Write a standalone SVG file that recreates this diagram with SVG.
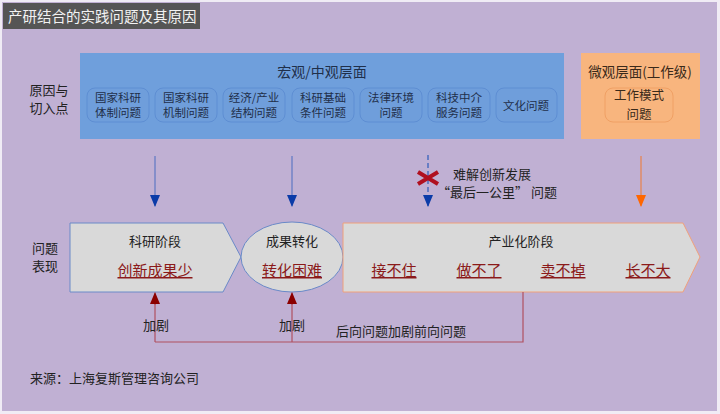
<svg xmlns="http://www.w3.org/2000/svg" width="720" height="414" viewBox="0 0 720 414">
<style>
text{font-family:"Noto Sans CJK SC","Liberation Sans",sans-serif;fill:#222}
.sub{fill:#6F9EDB;stroke:#5E8ED3;stroke-width:1}
.subt{font-size:11.5px;text-anchor:middle;fill:#1F2F4A}
.stage{fill:#D9D9D9}
.st{font-size:13px;text-anchor:middle}
.red{font-size:15px;text-anchor:middle;fill:#8B1A1A;text-decoration:underline}
.lbl{font-size:13px}
.mt{font-size:12.5px;text-anchor:middle;fill:#3A2A1A}
</style>
<defs>
<marker id="ab" markerWidth="12" markerHeight="10" refX="11" refY="5" orient="auto" markerUnits="userSpaceOnUse" viewBox="0 0 12 10"><path d="M0,0 L12,5 L0,10 Z" fill="#0B3BA8"/></marker>
<marker id="ao" markerWidth="12" markerHeight="10" refX="11" refY="5" orient="auto" markerUnits="userSpaceOnUse" viewBox="0 0 12 10"><path d="M0,0 L12,5 L0,10 Z" fill="#FF6600"/></marker>
<marker id="ar" markerWidth="12" markerHeight="10" refX="11" refY="5" orient="auto" markerUnits="userSpaceOnUse" viewBox="0 0 12 10"><path d="M0,0 L12,5 L0,10 Z" fill="#8B0000"/></marker>
</defs>
<rect x="0" y="0" width="720" height="414" fill="#F0ECF5"/>
<rect x="2" y="2" width="715" height="409" fill="#C0B0D3"/>
<g id="title">
<rect x="3" y="3" width="197" height="26" fill="#555555"/>
<text x="8" y="22" style="font-size:14.5px;fill:#F2F2F2">产研结合的实践问题及其原因</text>
</g>
<g id="label-cause">
<text x="49" y="95" class="lbl" text-anchor="middle">原因与</text>
<text x="49" y="113" class="lbl" text-anchor="middle">切入点</text>
</g>
<g id="macro">
<rect x="80" y="53" width="484" height="86" fill="#6F9FDC"/>
<text x="322" y="77" style="font-size:14px;text-anchor:middle;fill:#1F2F4A">宏观/中观层面</text>
<rect class="sub" x="87" y="88" width="62" height="34" rx="8"/>
<text class="subt" x="118" y="102">国家科研</text><text class="subt" x="118" y="117">体制问题</text>
<rect class="sub" x="155" y="88" width="62" height="34" rx="8"/>
<text class="subt" x="186" y="102">国家科研</text><text class="subt" x="186" y="117">机制问题</text>
<rect class="sub" x="223" y="88" width="62" height="34" rx="8"/>
<text class="subt" x="254" y="102">经济/产业</text><text class="subt" x="254" y="117">结构问题</text>
<rect class="sub" x="292" y="88" width="62" height="34" rx="8"/>
<text class="subt" x="323" y="102">科研基础</text><text class="subt" x="323" y="117">条件问题</text>
<rect class="sub" x="360" y="88" width="62" height="34" rx="8"/>
<text class="subt" x="391" y="102">法律环境</text><text class="subt" x="391" y="117">问题</text>
<rect class="sub" x="428" y="88" width="62" height="34" rx="8"/>
<text class="subt" x="459" y="102">科技中介</text><text class="subt" x="459" y="117">服务问题</text>
<rect class="sub" x="496" y="88" width="61" height="34" rx="8"/>
<text class="subt" x="526" y="110">文化问题</text>
</g>
<g id="micro">
<rect x="581" y="53" width="119" height="86" fill="#F8B57E"/>
<text x="640" y="77" style="font-size:13.5px;text-anchor:middle;fill:#3A2A1A">微观层面(工作级)</text>
<rect x="605" y="88" width="68" height="34" rx="8" fill="#F8B57E" stroke="#F0A064"/>
<text class="mt" x="639" y="100">工作模式</text>
<text class="mt" x="639" y="119">问题</text>
</g>
<g id="label-problem">
<text x="45" y="253" class="lbl" text-anchor="middle">问题</text>
<text x="45" y="271" class="lbl" text-anchor="middle">表现</text>
</g>
<g id="stage-research">
<path class="stage" d="M70,223 L223,223 L241,257 L223,292 L70,292 Z" stroke="#6A8AC8" stroke-width="1"/>
<text class="st" x="155" y="246">科研阶段</text>
<text class="red" x="155" y="276">创新成果少</text>
</g>
<g id="stage-transfer">
<ellipse class="stage" cx="292" cy="257" rx="51" ry="35" stroke="#6A8AC8" stroke-width="1"/>
<text class="st" x="292" y="246">成果转化</text>
<text class="red" x="292" y="276">转化困难</text>
</g>
<g id="stage-industry">
<path class="stage" d="M343,223 L683,223 L700,257 L683,292 L343,292 Z" stroke="#F0A07A" stroke-width="1"/>
<text class="st" x="521" y="246">产业化阶段</text>
<text class="red" x="394" y="276">接不住</text>
<text class="red" x="479" y="276">做不了</text>
<text class="red" x="563" y="276">卖不掉</text>
<text class="red" x="648" y="276">长不大</text>
</g>
<g id="connectors">
<line x1="155" y1="156" x2="155" y2="206" stroke="#4A6CC0" stroke-width="1" marker-end="url(#ab)"/>
<line x1="292" y1="156" x2="292" y2="206" stroke="#4A6CC0" stroke-width="1" marker-end="url(#ab)"/>
<line x1="428" y1="155" x2="428" y2="206" stroke="#4A6CC0" stroke-width="1.5" stroke-dasharray="5,3" marker-end="url(#ab)"/>
<path d="M418,172 L438,184 M418,184 L438,172" stroke="#B01020" stroke-width="4"/>
<line x1="641" y1="156" x2="641" y2="206" stroke="#F07830" stroke-width="1" marker-end="url(#ao)"/>
<path d="M155,342 L155,300 M292,342 L292,300 M155,342 L523,342 L523,292" fill="none" stroke="#B05060" stroke-width="1.2"/>
<line x1="155" y1="305" x2="155" y2="293" stroke="#B05060" marker-end="url(#ar)"/>
<line x1="292" y1="305" x2="292" y2="293" stroke="#B05060" marker-end="url(#ar)"/>
</g>
<g id="labels">
<text x="453" y="179" style="font-size:13px">难解创新发展</text>
<text x="437" y="197" style="font-size:13px">“最后一公里” 问题</text>
<text x="156" y="330" style="font-size:13px;text-anchor:middle">加剧</text>
<text x="292" y="330" style="font-size:13px;text-anchor:middle">加剧</text>
<text x="336" y="336" style="font-size:13px">后向问题加剧前向问题</text>
<text x="30" y="383" style="font-size:13px;font-family:'Noto Sans CJK SC',serif">来源：上海复斯管理咨询公司</text>
</g>
</svg>
